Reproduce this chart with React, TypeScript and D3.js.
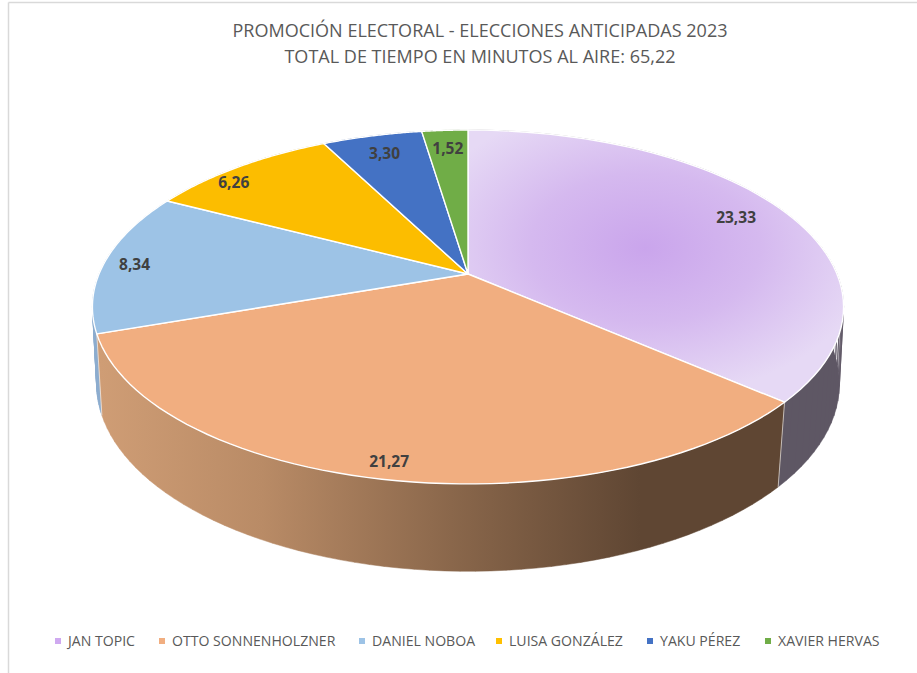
import React from "react";
import * as d3 from "d3";

const names = ["JAN TOPIC", "OTTO SONNENHOLZNER", "DANIEL NOBOA", "LUISA GONZÁLEZ", "YAKU PÉREZ", "XAVIER HERVAS"];
const minutes = [23.33, 21.27, 8.34, 6.26, 3.3, 1.52];
const minuteLabels = ["23,33", "21,27", "8,34", "6,26", "3,30", "1,52"];
const topColors = ["url(#janTop)", "#F1AE80", "#9DC3E6", "#FCBD00", "#4472C4", "#70AD47"];
const legendColors = ["#CFA9F0", "#F1AE80", "#9DC3E6", "#FFC000", "#4472C4", "#70AD47"];
const sideColors = ["#5E5764", "url(#ottoSide)", "#8CADCF", "#B58A00", "#30518C", "#4F7B32"];
const labelRadius = [0.85, 0.93, 0.915, 0.92, 0.85, 0.85];
const labelAngleShift = [0, 0, -0.7, -5.3, 0, 0];
const legendSwatchX = [55, 159, 359, 496, 647, 765];
const titleLines = ["PROMOCIÓN ELECTORAL - ELECCIONES ANTICIPADAS 2023", "TOTAL DE TIEMPO EN MINUTOS AL AIRE: 65,22"];

const W = 917;
const H = 673;
const FONT = "'Open Sans', sans-serif";

type Face = { cx: number; cy: number; a: number; b: number; k: number };
const topFace: Face = { cx: 468, cy: 274, a: 369, b: 170.8, k: 0.1864 };
const baseFace: Face = { cx: 468, cy: 352, a: 366, b: 182, k: 0.17 };

// Perspective projection of a polar point on a horizontal disc.
function project(f: Face, angle: number, r = 1): [number, number] {
  const x = r * Math.sin(angle);
  const z = r * Math.cos(angle);
  const s = 1 + f.k * z;
  return [f.cx + (f.a * x) / s, f.cy - (f.b * z) / s];
}

const samples = (a0: number, a1: number) => d3.range(0, 61).map((i) => a0 + ((a1 - a0) * i) / 60);
const line = d3.line();

export default function App() {
  const arcs = d3.pie<number>().sort(null).value((d) => d)(minutes);
  const midOf = (d: { startAngle: number; endAngle: number }) => (d.startAngle + d.endAngle) / 2;
  const farFirst = arcs
    .map((d, i) => ({ d, i }))
    .sort((p, q) => Math.cos(midOf(q.d)) - Math.cos(midOf(p.d)));
  return (
    <svg width={W} height={H} viewBox={`0 0 ${W} ${H}`} style={{ position: "absolute", left: 0, top: 0, background: "#fff" }}>
      <defs>
        <radialGradient id="janTop" gradientUnits="userSpaceOnUse" cx={0} cy={0} r={1}
          gradientTransform="translate(645 248) scale(230 150)">
          <stop offset="0" stopColor="#CAA5EC" />
          <stop offset="0.5" stopColor="#D5B9EF" />
          <stop offset="1" stopColor="#E6D9F5" />
        </radialGradient>
        <linearGradient id="ottoSide" gradientUnits="userSpaceOnUse" x1={100} x2={640} y1={0} y2={0}>
          <stop offset="0" stopColor="#CF9D75" />
          <stop offset="0.3" stopColor="#B98B66" />
          <stop offset="0.65" stopColor="#8A674B" />
          <stop offset="1" stopColor="#5F4633" />
        </linearGradient>
      </defs>
      <path d={`M8.5 2.5H${W}M8.5 2.5V${H}`} fill="none" stroke="#D9D9D9" strokeWidth={1.5} />
      {titleLines.map((t, i) => (
        <text key={t} x={480} y={36.5 + i * 26} textAnchor="middle" fontFamily={FONT} fontSize={18.05} fill="#595959">{t}</text>
      ))}
      {farFirst.map(({ d, i }) => {
        const as = samples(d.startAngle, d.endAngle);
        const quads = as.slice(1).map((a, j) => {
          const pts = [project(topFace, as[j]), project(topFace, a), project(baseFace, a), project(baseFace, as[j])];
          return line(pts) + "Z";
        });
        return <path key={names[i]} d={quads.join("")} fill={sideColors[i]} stroke={sideColors[i]} strokeWidth={0.5} />;
      })}
      {arcs.map((d, i) => (
        <path key={names[i]} d={line([project(topFace, d.startAngle), project(baseFace, d.startAngle)]) ?? ""} fill="none" stroke="#fff" strokeOpacity={0.6} strokeWidth={1} />
      ))}
      {arcs.map((d, i) => {
        const pts = [[topFace.cx, topFace.cy] as [number, number], ...samples(d.startAngle, d.endAngle).map((a) => project(topFace, a))];
        return <path key={names[i]} d={line(pts) + "Z"} fill={topColors[i]} stroke="#fff" strokeWidth={1.4} strokeLinejoin="round" />;
      })}
      {arcs.map((d, i) => {
        const mid = midOf(d) + (labelAngleShift[i] * Math.PI) / 180;
        const [x, y] = project(topFace, mid, labelRadius[i]);
        return <text key={names[i]} x={x} y={y} dy="0.35em" textAnchor="middle" fontFamily={FONT} fontWeight={700} fontSize={15.5} fill="#404040">{minuteLabels[i]}</text>;
      })}
      {names.map((n, i) => (
        <g key={n}>
          <rect x={legendSwatchX[i]} y={638} width={6} height={6} fill={legendColors[i]} />
          <text x={legendSwatchX[i] + 13} y={646} fontFamily={FONT} fontSize={14.1} fill="#595959">{n}</text>
        </g>
      ))}
    </svg>
  );
}
